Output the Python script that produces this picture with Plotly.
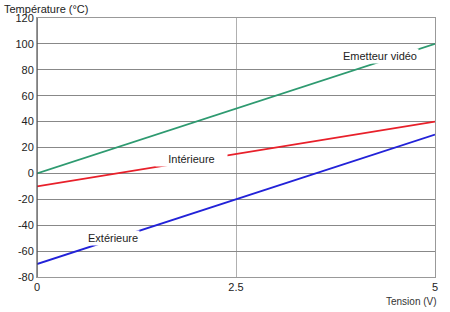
import plotly.graph_objects as go

tension = [0, 5]
emetteur = [0, 100]
interieure = [-10, 40]
exterieure = [-70, 30]

series = [
    ("Emetteur vidéo", emetteur, "#2e9a70"),
    ("Intérieure", interieure, "#e8202a"),
    ("Extérieure", exterieure, "#2222d8"),
]
labels = [
    ("Emetteur vidéo", 4.31, 90.5, None),
    ("Intérieure", 1.94, 11.5, 69),
    ("Extérieure", 0.96, -50, None),
]
ytick_vals = list(range(-80, 121, 20))
ytick_text = [str(v) for v in ytick_vals]

font = "Liberation Sans, Arial, sans-serif"
fig = go.Figure()
for name, ys, col in series:
    fig.add_trace(go.Scatter(x=tension, y=ys, mode="lines", name=name,
                             line=dict(color=col, width=1.8), showlegend=False))

for txt, x, y, w in labels:
    fig.add_annotation(x=x, y=y, text=txt, showarrow=False, bgcolor="white",
                       width=w, align="center",
                       font=dict(family=font, size=11, color="#222"), borderpad=1)

fig.add_annotation(xref="paper", yref="paper", x=-0.085, y=1.0, yshift=2,
                   xanchor="left", yanchor="bottom", text="Température (°C)",
                   showarrow=False, font=dict(family=font, size=11, color="#222"),
                   borderpad=0)
fig.add_annotation(xref="paper", yref="paper", x=1.01, y=0, yshift=-17,
                   xanchor="right", yanchor="top", text="Tension (V)",
                   showarrow=False, font=dict(family=font, size=10, color="#333"))

fig.update_layout(
    width=450, height=312,
    margin=dict(l=37, r=13, t=17, b=35),
    paper_bgcolor="white", plot_bgcolor="white",
    xaxis=dict(range=[0, 5], tickvals=[0, 2.5, 5], ticktext=["0", "2.5", "5"],
               showgrid=True, gridcolor="#b0b0b0", gridwidth=1,
               zeroline=False, showline=True, linecolor="#999999", mirror=True,
               ticks="", tickfont=dict(family=font, size=11, color="#222")),
    yaxis=dict(range=[-80, 120], tickvals=ytick_vals, ticktext=ytick_text,
               showgrid=True, gridcolor="#888888", gridwidth=1,
               zeroline=False, showline=True, linecolor="#999999", mirror=True,
               ticks="", tickfont=dict(family=font, size=11, color="#222")),
)
fig.add_shape(type="line", xref="x", yref="paper", x0=0, x1=0, y0=0, y1=1,
              line=dict(color="#555555", width=1.5))
fig.write_html("out.html")
